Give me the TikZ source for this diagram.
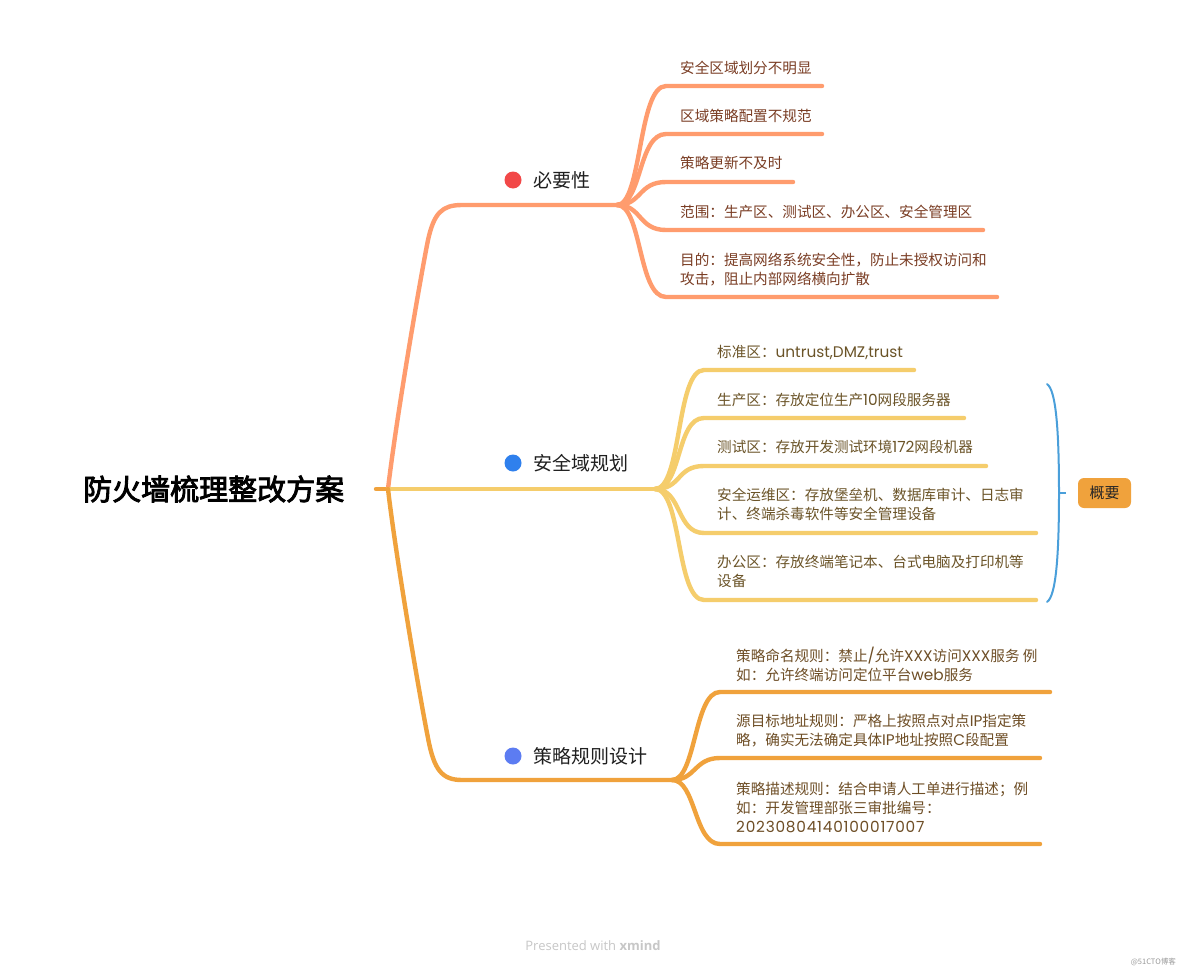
\documentclass[tikz,border=0pt]{standalone}
\usepackage{fontspec}
\setmainfont{Noto Sans CJK SC}
\newfontfamily\latn{Poppins}[Scale=1.05]
\newfontfamily\rootfont{Noto Sans CJK SC}[FakeBold=3]
\newfontfamily\footfont{Open Sans}
\newcommand\lt[1]{{\latn #1}}
\definecolor{cA}{HTML}{FF9C6E}
\definecolor{cB}{HTML}{F5CD6C}
\definecolor{cC}{HTML}{F0A23C}
\definecolor{tA}{HTML}{7A3D24}
\definecolor{tB}{HTML}{6B5428}
\definecolor{tC}{HTML}{6E4E26}
\definecolor{dotA}{HTML}{F24848}
\definecolor{dotB}{HTML}{2F80ED}
\definecolor{dotC}{HTML}{5C7CF2}
\definecolor{braceC}{HTML}{4A9FDA}
\begin{document}
\begin{tikzpicture}[x=1pt,y=-1pt,
  br/.style={line width=4.4pt, line cap=round},
  subtxt/.style={anchor=west, inner sep=0pt, font=\fontsize{14.6}{19}\selectfont, align=left},
  topictxt/.style={anchor=west, inner sep=0pt, font=\fontsize{19}{24}\selectfont, text=black!88},
  dotnode/.style={circle, inner sep=0pt, minimum size=17pt}]
\useasboundingbox (0,0) rectangle (1184,972);
\fill[white] (0,0) rectangle (1184,972);

% root
\node[anchor=west, inner sep=0pt, font=\rootfont\fontsize{29}{34}\selectfont, text=black] (root) at (83,489) {防火墙梳理整改方案};
\coordinate (r0) at (376,489);
\coordinate (r) at (388,489);
\draw[br, cC] (r0) -- (r);

% forks
\coordinate (f1) at (617,205);
\coordinate (f2) at (655,489);
\coordinate (f3) at (672,780);

% main branches
\draw[br, cA] (r) .. controls (396,420) and (420,280) .. (428,240) .. controls (434,213) and (442,205) .. (462,205) -- (f1);
\draw[br, cB] (r) -- (f2);
\draw[br, cC] (r) .. controls (396,558) and (420,698) .. (428,738) .. controls (434,770) and (442,780) .. (462,780) -- (f3);

% topics
\node[dotnode, fill=dotA] (d1) at (513,180) {};
\node[topictxt] (t1) at (533,180) {必要性};
\node[dotnode, fill=dotB] (d2) at (513,463) {};
\node[topictxt] (t2) at (533,463) {安全域规划};
\node[dotnode, fill=dotC] (d3) at (513,756) {};
\node[topictxt] (t3) at (533,756) {策略规则设计};

% branch 1 children
\foreach \y/\e in {86/822, 134/822, 182/793, 230/983, 297/997}{
  \draw[br, cA] (f1) .. controls (642,205) and (638,\y) .. (666,\y) -- (\e,\y);
}
\node[subtxt, text=tA] (a1) at (680,68) {安全区域划分不明显};
\node[subtxt, text=tA] (a2) at (680,116) {区域策略配置不规范};
\node[subtxt, text=tA] (a3) at (680,163) {策略更新不及时};
\node[subtxt, text=tA] (a4) at (680,212) {范围：生产区、测试区、办公区、安全管理区};
\node[subtxt, text=tA] (a5) at (680,269.5) {目的：提高网络系统安全性，防止未授权访问和\\攻击，阻止内部网络横向扩散};

% branch 2 children
\foreach \y/\e in {370/914, 418/964, 466/986, 533/1036, 600/1036}{
  \draw[br, cB] (f2) .. controls (682,489) and (676,\y) .. (704,\y) -- (\e,\y);
}
\node[subtxt, text=tB] (b1) at (717,352) {标准区：\lt{untrust,DMZ,trust}};
\node[subtxt, text=tB] (b2) at (717,400) {生产区：存放定位生产\lt{10}网段服务器};
\node[subtxt, text=tB] (b3) at (717,447) {测试区：存放开发测试环境\lt{172}网段机器};
\node[subtxt, text=tB] (b4) at (717,504.5) {安全运维区：存放堡垒机、数据库审计、日志审\\计、终端杀毒软件等安全管理设备};
\node[subtxt, text=tB] (b5) at (717,571.5) {办公区：存放终端笔记本、台式电脑及打印机等\\设备};

% branch 3 children
\foreach \y/\e in {692/1050, 758/1040, 844/1040}{
  \draw[br, cC] (f3) .. controls (696,780) and (694,\y) .. (720,\y) -- (\e,\y);
}
\node[subtxt, text=tC] (c1) at (736,664.5) {策略命名规则：禁止\lt{/}允许\lt{XXX}访问\lt{XXX}服务 例\\如：允许终端访问定位平台\lt{web}服务};
\node[subtxt, text=tC] (c2) at (736,730.5) {源目标地址规则：严格上按照点对点\lt{IP}指定策\\略，确实无法确定具体\lt{IP}地址按照\lt{C}段配置};
\node[subtxt, text=tC] (c3) at (736,807) {策略描述规则：结合申请人工单进行描述；例\\如：开发管理部张三审批编号：\\{\latn\addfontfeature{LetterSpace=5}20230804140100017007}};

% summary brace
\coordinate (bt) at (1047,384);
\coordinate (bb) at (1047,602);
\coordinate (bm) at (1059,493);
\coordinate (btip) at (1066,493);
\draw[braceC, line width=2pt, line cap=round]
  (bt) .. controls (1056,390) and (1059,430) .. (bm)
       .. controls (1059,556) and (1056,596) .. (bb);
\draw[braceC, line width=2pt] (bm) -- (btip);
\node[fill=cC, rounded corners=6pt, minimum width=53pt, minimum height=30pt, inner sep=0pt, font=\fontsize{15}{18}\selectfont, text=black!85] (sum) at (1104.5,493) {概要};

% footer
\node[inner sep=0pt, font=\footfont\fontsize{13}{16}\selectfont, text=black!22] (foot) at (593,946) {Presented with \textbf{xmind}};
\node[inner sep=0pt, font=\fontsize{7.5}{9}\selectfont, text=black!40, anchor=east] (wm) at (1176,962) {@51CTO博客};
\end{tikzpicture}
\end{document}
